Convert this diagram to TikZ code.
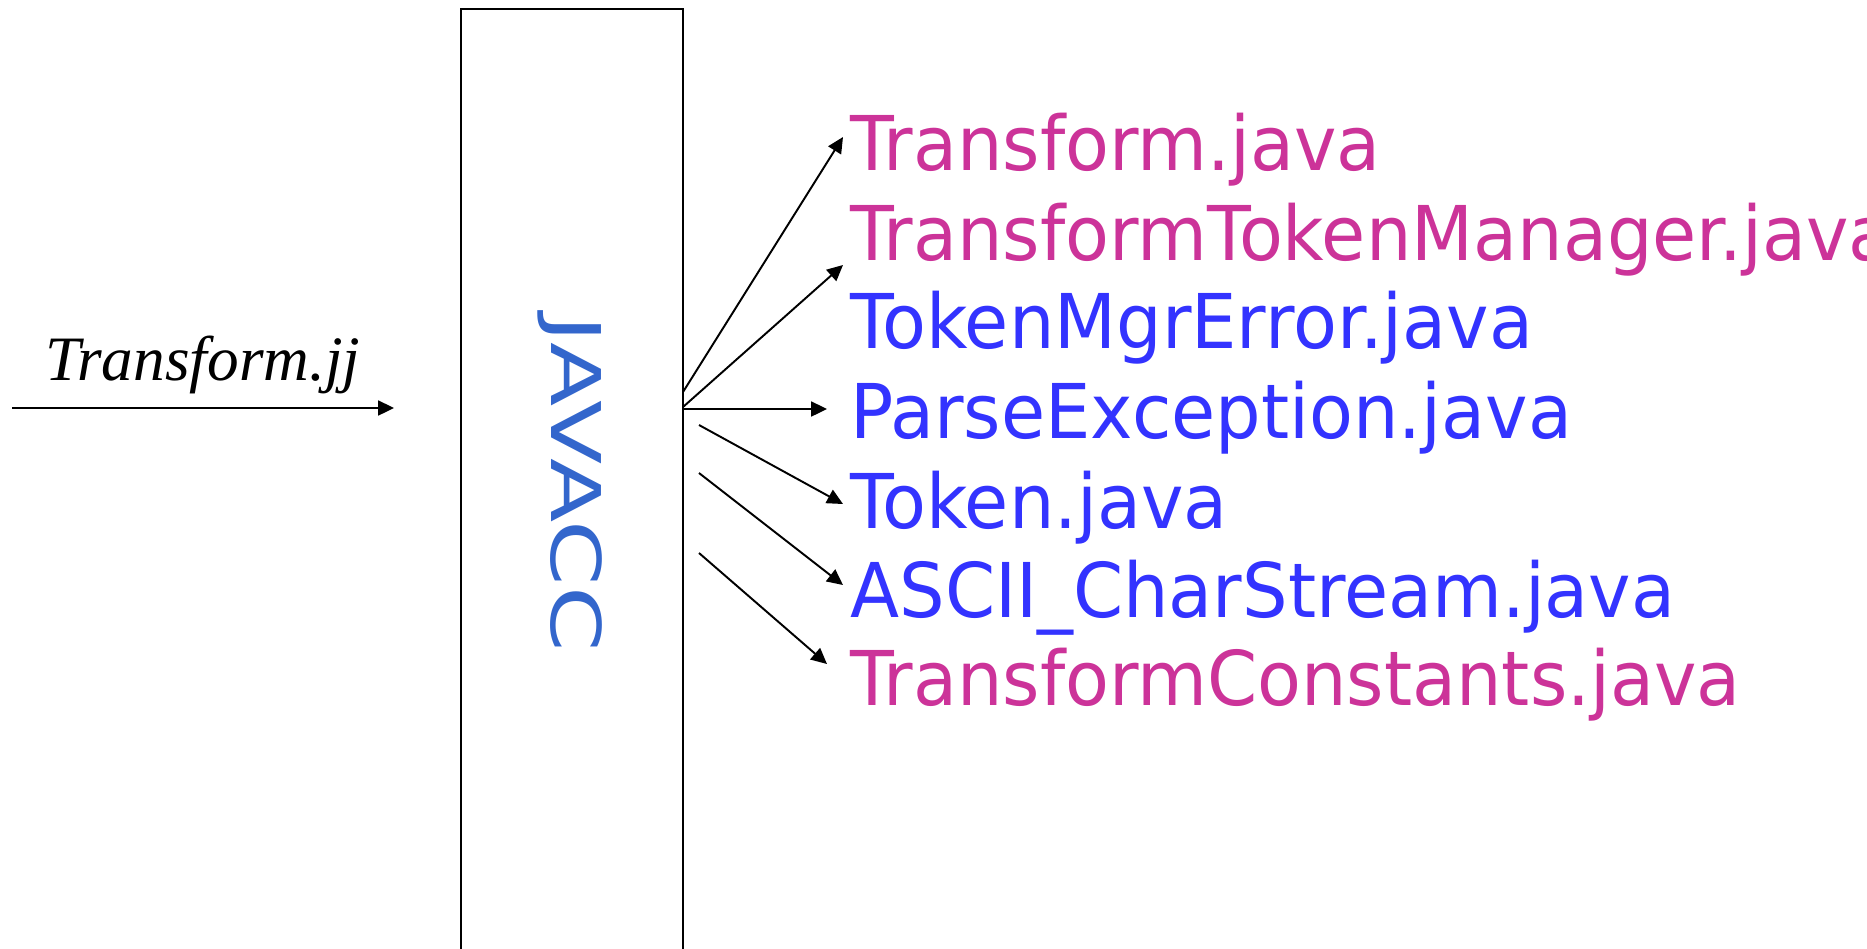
\documentclass[tikz,border=0pt]{standalone}
\usepackage{fontspec}
\setmainfont{Liberation Serif}
\newfontfamily\handfont[FakeStretch=0.95]{DejaVu Sans}
\newfontfamily\toolfont[FakeStretch=1.37]{DejaVu Sans}
\usetikzlibrary{arrows.meta}
\definecolor{genpink}{HTML}{CC3399}
\definecolor{genblue}{HTML}{3333FF}
\definecolor{tooltxt}{HTML}{3366CC}
\tikzset{
  fl/.style={-{Triangle[length=9pt, width=8.5pt]}, line width=1.1pt},
  gf/.style={anchor=base west, inner sep=0pt,
             font=\handfont\fontsize{43}{46}\selectfont},
  tool/.style={draw, line width=1.2pt, anchor=north west, inner sep=0pt,
               minimum width=4.44cm, minimum height=19.04cm},
}

\begin{document}
\begin{tikzpicture}[x=0.02cm, y=-0.02cm]
    \useasboundingbox (0,0) rectangle (1867,948);
    % the generator
    \node[tool] (jcc) at (460,8) {};
    \node[rotate=-90, text=tooltxt, font=\toolfont\fontsize{39}{42}\selectfont]
      (jname) at (570,484) {JAVACC};
    % input grammar
    \coordinate (in) at (12,408);
    \coordinate (inend) at (394,408);
    \draw[fl] (in) -- node[above=4pt, font=\itshape\fontsize{36}{40}\selectfont] (gram) {Transform.jj} (inend);
    % generated files
    \node[gf, text=genpink] (f1) at (850,170) {Transform.java};
    \node[gf, text=genpink] (f2) at (850,260) {TransformTokenManager.java};
    \node[gf, text=genblue] (f3) at (850,348) {TokenMgrError.java};
    \node[gf, text=genblue] (f4) at (850,438) {ParseException.java};
    \node[gf, text=genblue] (f5) at (850,528) {Token.java};
    \node[gf, text=genblue] (f6) at (850,617) {ASCII\_CharStream.java};
    \node[gf, text=genpink] (f7) at (850,705) {TransformConstants.java};
    \coordinate (s1) at (683,392);
    \coordinate (s2) at (683,407);
    \coordinate (s3) at (683,409);
    \coordinate (s4) at (699,425);
    \coordinate (s5) at (699,473);
    \coordinate (s6) at (699,553);
    \coordinate (e1) at (843,137);
    \coordinate (e2) at (843,265);
    \coordinate (e3) at (827,409);
    \coordinate (e4) at (843,504);
    \coordinate (e5) at (843,585);
    \coordinate (e6) at (827,664);
    \draw[fl] (s1) -- (e1);
    \draw[fl] (s2) -- (e2);
    \draw[fl] (s3) -- (e3);
    \draw[fl] (s4) -- (e4);
    \draw[fl] (s5) -- (e5);
    \draw[fl] (s6) -- (e6);
\end{tikzpicture}
\end{document}
